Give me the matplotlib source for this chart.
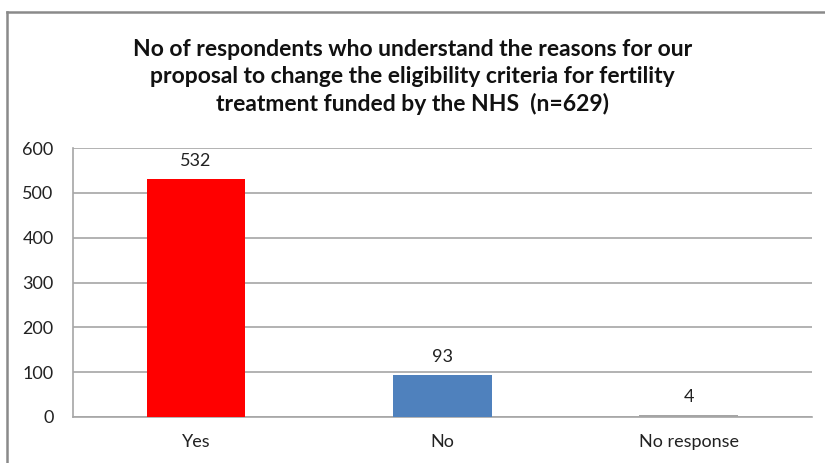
import matplotlib
matplotlib.use("Agg")
import matplotlib.pyplot as plt
from matplotlib.lines import Line2D

plt.rcParams['font.family'] = ['Lato', 'DejaVu Sans']

# survey answers
categories = ["Yes", "No", "No response"]
counts = [532, 93, 4]
colours = ["#FF0000", "#4F81BD", "#A5A5A5"]
title = ("No of respondents who understand the reasons for our\n"
         "proposal to change the eligibility criteria for fertility\n"
         "treatment funded by the NHS  (n=629)")

fig = plt.figure(figsize=(8.25, 4.63), dpi=100)
ax = fig.add_axes([0.0885, 0.0994, 0.8955, 0.5806])

x = range(len(categories))
bars = ax.bar(x, counts, width=0.4, color=colours, zorder=3)
for b, v in zip(bars, counts):
    ax.text(b.get_x() + b.get_width() / 2, v + 22, str(v),
            ha="center", va="bottom", fontsize=13, color="#222222")

ax.set_xlim(-0.5, 2.5)
ax.set_ylim(0, 600)
ax.set_yticks(range(0, 601, 100))
ax.set_xticks(list(x))
ax.set_xticklabels(categories)
ax.tick_params(axis="both", length=0, labelsize=13, colors="#222222")
ax.tick_params(axis="x", pad=12)
ax.tick_params(axis="y", pad=14)
ax.grid(axis="y", color="#A6A6A6", linewidth=1.2, zorder=0)
for s in ["top", "right"]:
    ax.spines[s].set_visible(False)
for s in ["left", "bottom"]:
    ax.spines[s].set_color("#A6A6A6")
    ax.spines[s].set_linewidth(1.2)

fig.text(0.5, 0.834, title, ha="center", va="center", fontsize=16.5,
         fontweight="bold", linespacing=1.35, color="#111111")

# outer chart frame (left and top edges only show)
fig.add_artist(Line2D([0.0085, 0.0085], [0.0, 0.974], color="#8A8A8A", linewidth=1.8))
fig.add_artist(Line2D([0.0085, 1.0], [0.974, 0.974], color="#8A8A8A", linewidth=1.8))

fig.savefig("out.png", dpi=100)
